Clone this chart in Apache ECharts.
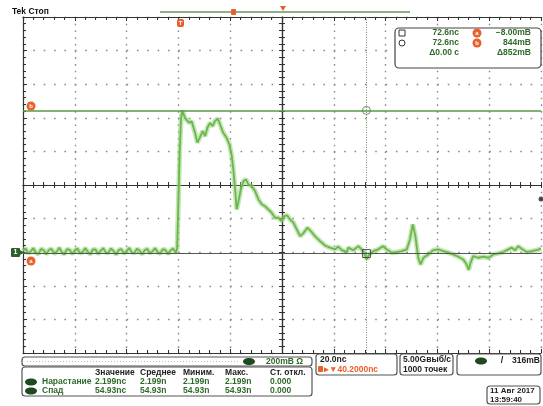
<!DOCTYPE html>
<html><head><meta charset="utf-8">
<script src="https://cdn.jsdelivr.net/npm/echarts@6/dist/echarts.min.js"></script>
<style>html,body{margin:0;padding:0;background:#fff}#c{width:543px;height:406px}</style>
</head><body><div id="c"></div>
<script>
// ---- data (time in ns, voltage in mV) ----
const preTrigger = [[-60,8],[-59,22],[-58,-6],[-57,4],[-56,24],[-55,-4],[-54,-10],[-53,20],[-52,12],[-51,-12],
[-50,14],[-49,20],[-48,-8],[-47,2],[-46,26],[-45,0],[-44,-12],[-43,18],[-42,14],[-41,-10],
[-40,10],[-39,22],[-38,-6],[-37,0],[-36,24],[-35,4],[-34,-12],[-33,16],[-32,16],[-31,-10],
[-30,8],[-29,24],[-28,-4],[-27,-2],[-26,22],[-25,6],[-24,-14],[-23,14],[-22,18],[-21,-8],
[-20,6],[-19,26],[-18,-2],[-17,-4],[-16,20],[-15,10],[-14,-12],[-13,12],[-12,20],[-11,-6],
[-10,4],[-9,24],[-8,0],[-7,-8],[-6,18],[-5,12],[-4,-10],[-3,10],[-2,22],[-1,-4]];
const pulse = [[-0.5,20],[0,300],[0.5,600],[1.0,790],[1.5,845],[1.9,840],[2.5,800],[3.2,810],[4.2,770],[5.1,780],
[6.4,713],[7.3,652],[8.3,683],[9.4,721],[10.3,691],[11.2,741],[12.2,770],[13.2,750],[14.1,780],[15.2,795],
[16.1,760],[17.3,711],[18.6,681],[19.7,641],[20.6,572],[21.2,493],[21.9,374],[22.5,255],[23.1,295],[24.1,374],
[25.1,423],[26.1,433],[27.0,403],[28.3,393],[29.6,364],[30.9,314],[32.2,285],[33.4,274],[34.7,255],[36.0,235],
[37.3,205],[38.6,205],[39.9,185],[40.9,215],[42.0,219],[43.1,195],[44.4,176],[45.7,136],[47.0,96],[48.2,112],
[49.8,146],[51.1,126],[52.7,96],[54.7,66],[56.6,40],[58.5,27],[60.5,17],[61.7,33],[63.1,12],[65.0,0]];
const tail = [[65.6,27],[67.5,12],[69.5,36],[71.4,6],[72.7,-43],[73.7,-13],[75.2,6],[77.2,17],[78.9,36],[80.4,17],
[82.4,-3],[84.3,1],[86.2,6],[88.2,17],[89.4,76],[90.5,165],[91.5,96],[92.6,-33],[93.5,-73],[94.6,-33],
[96.5,-13],[98.4,12],[100.3,17],[102.3,6],[104.2,-3],[106.1,-13],[108.1,-27],[110.0,-43],[111.3,-73],[112.1,-105],
[112.8,-63],[113.8,-23],[115.8,-33],[117.7,-27],[119.7,-33],[121.6,-13],[123.5,-7],[125.4,1],[127.4,17],[128.7,27],
[130.0,12],[131.2,36],[132.5,21],[134.5,1],[136.4,6],[138.3,12],[140,21]];

const cursorTimeNs = 72.6;
const cursorLevelsMv = [-8, 844];
const triggerLevelMv = 316;

const cursorTimeTexts = ['72.6nс','72.6nс','Δ0.00 с'];
const cursorLevelTexts = ['−8.00mВ','844mВ','Δ852mВ'];
const measureHeaders = ['Значение','Среднее','Миним.','Макс.','Ст. откл.'];
const measureNames = ['Нарастание','Спад'];
const measureValues = [['2.199nс','2.199n','2.199n','2.199n','0.000'],
                       ['54.93nс','54.93n','54.93n','54.93n','0.000']];
const statusTexts = {title:'Tek Стоп', scale:'200mВ Ω', timebase:'20.0nс', position:'▸▼40.2000nс',
  rate:'5.00Gвыб/с', points:'1000 точек', trig:'316mВ', date:'11 Авг 2017', time:'13:59:40'};

// ---- styling helpers ----
const FONT = '"Liberation Sans", Arial, sans-serif';
const GREEN_TXT = '#2f6a2a', DARK = '#222', ORANGE = '#e8602c', BOX = '#555';
function T(x,y,text,color,align,size){
  return {type:'text', x:x, y:y, z:100, silent:true,
    style:{text:text, fill:color||DARK, font:'bold '+(size||8.5)+'px '+FONT,
      align:align||'left', textAlign:align||'left', verticalAlign:'middle', textVerticalAlign:'middle'}};
}
function R(x,y,w,h,r,fill,stroke,lw){
  return {type:'rect', z:99, silent:true, shape:{x:x,y:y,width:w,height:h,r:r||0},
    style:{fill:fill||'none', stroke:stroke||null, lineWidth:lw||1}};
}
function C(cx,cy,r,fill,stroke){
  return {type:'circle', z:100, silent:true, shape:{cx:cx,cy:cy,r:r}, style:{fill:fill||'none', stroke:stroke||null, lineWidth:1}};
}
function E(cx,cy,rx,ry,fill){
  return {type:'ellipse', z:100, silent:true, shape:{cx:cx,cy:cy,rx:rx,ry:ry}, style:{fill:fill}};
}

const g = [];
// header
g.push(T(12,12,statusTexts.title,'#111','left',8.5));
g.push(R(160,11,250,2,0,'#93ad86'));
g.push(R(231,9,5,6,1,ORANGE));
g.push({type:'polygon', z:100, shape:{points:[[280,6],[286,6],[283,11]]}, style:{fill:ORANGE}});
// trigger position marker
g.push(R(177,19,7,8,2,ORANGE));
g.push(T(180.5,23,'T','#fff','center',6));
// cursor readout box
g.push(R(395,28,146,40,4,'#fff','#444',1.2));
g.push(R(399,30,6,6,0,'none','#333'));
g.push(C(402,43,3,'none','#333'));
for (let i=0;i<3;i++){
  g.push(T(459,33+i*10,cursorTimeTexts[i],GREEN_TXT,'right'));
  g.push(T(531,33+i*10,cursorLevelTexts[i],GREEN_TXT,'right'));
}
g.push(C(477,33,4.5,ORANGE)); g.push(T(477,33,'a','#fff','center',6));
g.push(C(477,43,4.5,ORANGE)); g.push(T(477,43,'b','#fff','center',6));
// left cursor tags
g.push(C(31,106,4.5,ORANGE)); g.push(T(31,106,'b','#fff','center',6));
g.push(C(31,261,4.5,ORANGE)); g.push(T(31,261,'a','#fff','center',6));
// channel 1 ground marker
g.push(R(11,248,9,9,1,'#2f5f2f'));
g.push(T(15.5,252.5,'1','#fff','center',7));
g.push({type:'polygon', z:100, shape:{points:[[20,250],[24,252.5],[20,255]]}, style:{fill:'#2f5f2f'}});
// bottom bar
g.push(R(22,357,290,9,3,'#fff',BOX,1.2));
g.push({type:'line', z:100, shape:{x1:27,y1:361.5,x2:238,y2:361.5}, style:{stroke:'#bbb', lineDash:[1,2]}});
g.push(E(249,361.5,6,3.5,'#1f4a1f'));
g.push(T(266,361.5,statusTexts.scale,GREEN_TXT));
// measurement table
g.push(R(22,367,290,29,3,'#fff',BOX,1.2));
const colX = [95,140,183,225,270];
measureHeaders.forEach((h,i)=>g.push(T(colX[i],373,h,DARK)));
measureNames.forEach((n,r)=>{
  const y = 382 + r*9;
  g.push(E(31,y,6,3.5,'#1f4a1f'));
  g.push(T(42,y,n,GREEN_TXT));
  measureValues[r].forEach((v,i)=>g.push(T(colX[i],y,v,GREEN_TXT)));
});
// timebase box
g.push(R(316,354,81,21,3,'#fff',BOX,1.2));
g.push(T(320,360,statusTexts.timebase,DARK));
g.push(R(318,366,5,6,1,ORANGE));
g.push(T(324,369.5,statusTexts.position,ORANGE));
// sample box
g.push(R(400,354,53,21,3,'#fff',BOX,1.2));
g.push(T(403,360,statusTexts.rate,DARK));
g.push(T(403,369.5,statusTexts.points,DARK));
// trigger box
g.push(R(457,354,84,21,3,'#fff',BOX,1.2));
g.push(E(481,361,6,3.5,'#1f4a1f'));
g.push(T(502,361,'/',DARK,'center',9));
g.push(T(512,361,statusTexts.trig,DARK));
// date box
g.push(R(487,386,53,18,3,'#fff',BOX,1.2));
g.push(T(490,391,statusTexts.date,DARK,'left',8));
g.push(T(490,400,statusTexts.time,DARK,'left',8));

const tickStyle = {color:'#333', width:1};
const axisLineStyle = {color:'#333', width:1.2};
const trace = preTrigger.concat(pulse, tail);

const option = {
  animation:false,
  backgroundColor:'#ffffff',
  grid:{left:23, right:2, top:17, bottom:53},
  xAxis:[
    {type:'value', position:'bottom', min:-60, max:140, interval:20,
     axisLine:{onZero:false, lineStyle:axisLineStyle},
     axisTick:{inside:true, length:4, lineStyle:tickStyle},
     minorTick:{show:true, splitNumber:5, length:3, lineStyle:tickStyle},
     axisLabel:{show:false},
     splitLine:{show:true, lineStyle:{color:'#8a8a8a', width:1.4, type:[1.6,5.12]}}},
    {type:'value', position:'top', min:-60, max:140, interval:20,
     axisLine:{onZero:false, lineStyle:axisLineStyle},
     axisTick:{inside:true, length:4, lineStyle:tickStyle},
     minorTick:{show:true, splitNumber:5, length:3, lineStyle:tickStyle},
     axisLabel:{show:false}, splitLine:{show:false}},
    {type:'value', position:'bottom', min:-5, max:5, interval:1,
     axisLine:{onZero:true, onZeroAxisIndex:1, lineStyle:axisLineStyle},
     axisTick:{inside:true, length:3, lineStyle:tickStyle},
     minorTick:{show:true, splitNumber:5, length:3, lineStyle:tickStyle},
     axisLabel:{show:false}, splitLine:{show:false}},
    {type:'value', position:'bottom', min:-5, max:5, interval:1,
     axisLine:{onZero:true, onZeroAxisIndex:1, lineStyle:axisLineStyle},
     axisTick:{inside:false, length:3, lineStyle:tickStyle},
     minorTick:{show:true, splitNumber:5, length:3, lineStyle:tickStyle},
     axisLabel:{show:false}, splitLine:{show:false}},
    {type:'value', min:-1, max:1, show:false}
  ],
  yAxis:[
    {type:'value', position:'left', min:-600, max:1400, interval:200,
     axisLine:{onZero:false, lineStyle:axisLineStyle},
     axisTick:{inside:true, length:4, lineStyle:tickStyle},
     minorTick:{show:true, splitNumber:5, length:3, lineStyle:tickStyle},
     axisLabel:{show:false},
     splitLine:{show:true, lineStyle:{color:'#8a8a8a', width:1.4, type:[1.6,8.76]}}},
    {type:'value', min:-1, max:1, show:false},
    {type:'value', position:'left', min:-5, max:5, interval:1,
     axisLine:{onZero:true, onZeroAxisIndex:4, lineStyle:axisLineStyle},
     axisTick:{inside:true, length:3, lineStyle:tickStyle},
     minorTick:{show:true, splitNumber:5, length:3, lineStyle:tickStyle},
     axisLabel:{show:false}, splitLine:{show:false}},
    {type:'value', position:'left', min:-5, max:5, interval:1,
     axisLine:{onZero:true, onZeroAxisIndex:4, lineStyle:axisLineStyle},
     axisTick:{inside:false, length:3, lineStyle:tickStyle},
     minorTick:{show:true, splitNumber:5, length:3, lineStyle:tickStyle},
     axisLabel:{show:false}, splitLine:{show:false}}
  ],
  series:[
    {type:'line', data:trace, showSymbol:false, silent:true, z:3,
     lineStyle:{color:'rgba(150,210,120,0.55)', width:5},
     markLine:{silent:true, symbol:['none','none'], label:{show:false},
       data:[
         {yAxis:cursorLevelsMv[1], lineStyle:{color:'#5a9a46', width:1.5, type:'solid'}},
         {yAxis:cursorLevelsMv[0], lineStyle:{color:'#555', width:1, type:'solid'}},
         {xAxis:cursorTimeNs, lineStyle:{color:'#6f8a66', width:1, type:[1,1.5]}}
       ]}},
    {type:'line', data:trace, showSymbol:false, silent:true, z:4,
     lineStyle:{color:'#6cb64e', width:1.8}},
    {type:'scatter', data:[[cursorTimeNs, cursorLevelsMv[0]]], symbol:'rect', symbolSize:8, z:6, silent:true,
     itemStyle:{color:'rgba(255,255,255,0)', borderColor:'#333', borderWidth:1}},
    {type:'scatter', data:[[cursorTimeNs, cursorLevelsMv[1]]], symbol:'circle', symbolSize:8, z:6, silent:true,
     itemStyle:{color:'rgba(255,255,255,0)', borderColor:'#4a7a3a', borderWidth:1}},
    {type:'scatter', data:[[140, triggerLevelMv]], symbol:'circle', symbolSize:5, z:6, silent:true,
     itemStyle:{color:'#222'}}
  ],
  graphic:g
};
echarts.init(document.getElementById('c')).setOption(option);
</script>
</body></html>
